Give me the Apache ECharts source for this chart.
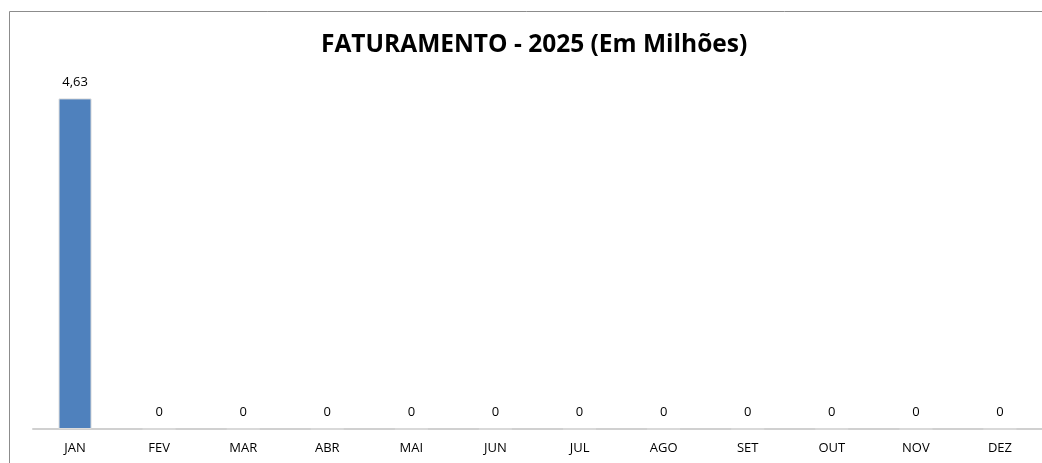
<!DOCTYPE html>
<html><head><meta charset="utf-8">
<script src="https://cdn.jsdelivr.net/npm/echarts@6/dist/echarts.min.js"></script>
<style>html,body{margin:0;padding:0;background:#fff;overflow:hidden}#c{width:1042px;height:463px}</style>
</head><body><div id="c"></div>
<script>
const titleText = 'FATURAMENTO - 2025 (Em Milhões)';
const categories = ['JAN','FEV','MAR','ABR','MAI','JUN','JUL','AGO','SET','OUT','NOV','DEZ'];
const values = [4.63,0,0,0,0,0,0,0,0,0,0,0];

const chart = echarts.init(document.getElementById('c'), null, {renderer:'canvas'});
chart.setOption({
  backgroundColor:'#fff',
  animation:false,
  title:{text:titleText,left:316,top:28,padding:5,
    textStyle:{fontFamily:'Open Sans',fontWeight:'bold',fontSize:24.5,color:'#000'}},
  graphic:{elements:[{type:'polyline',shape:{points:[[9.5,470],[9.5,11.5],[1050,11.5]]},
    style:{fill:'none',stroke:'#8c8c8c',lineWidth:1},silent:true}]},
  grid:{left:33,right:-1,top:72,bottom:34,containLabel:false},
  xAxis:{type:'category',data:categories,
    axisLine:{lineStyle:{color:'#d0d0d0',width:2}},
    axisTick:{show:false},
    axisLabel:{margin:13,color:'#000',fontFamily:'Open Sans',fontSize:13,interval:0}},
  yAxis:{type:'value',min:0,max:5,show:false,splitLine:{show:false}},
  series:[{type:'bar',data:values,barWidth:33,
    itemStyle:{color:'#4F81BD',borderColor:'#dcdcdc',borderWidth:1},
    label:{show:true,position:'top',distance:10,color:'#000',fontFamily:'Open Sans',fontSize:13,
      formatter:p=>p.value===0?'0':String(p.value).replace('.',',')}}]
});
</script></body></html>
